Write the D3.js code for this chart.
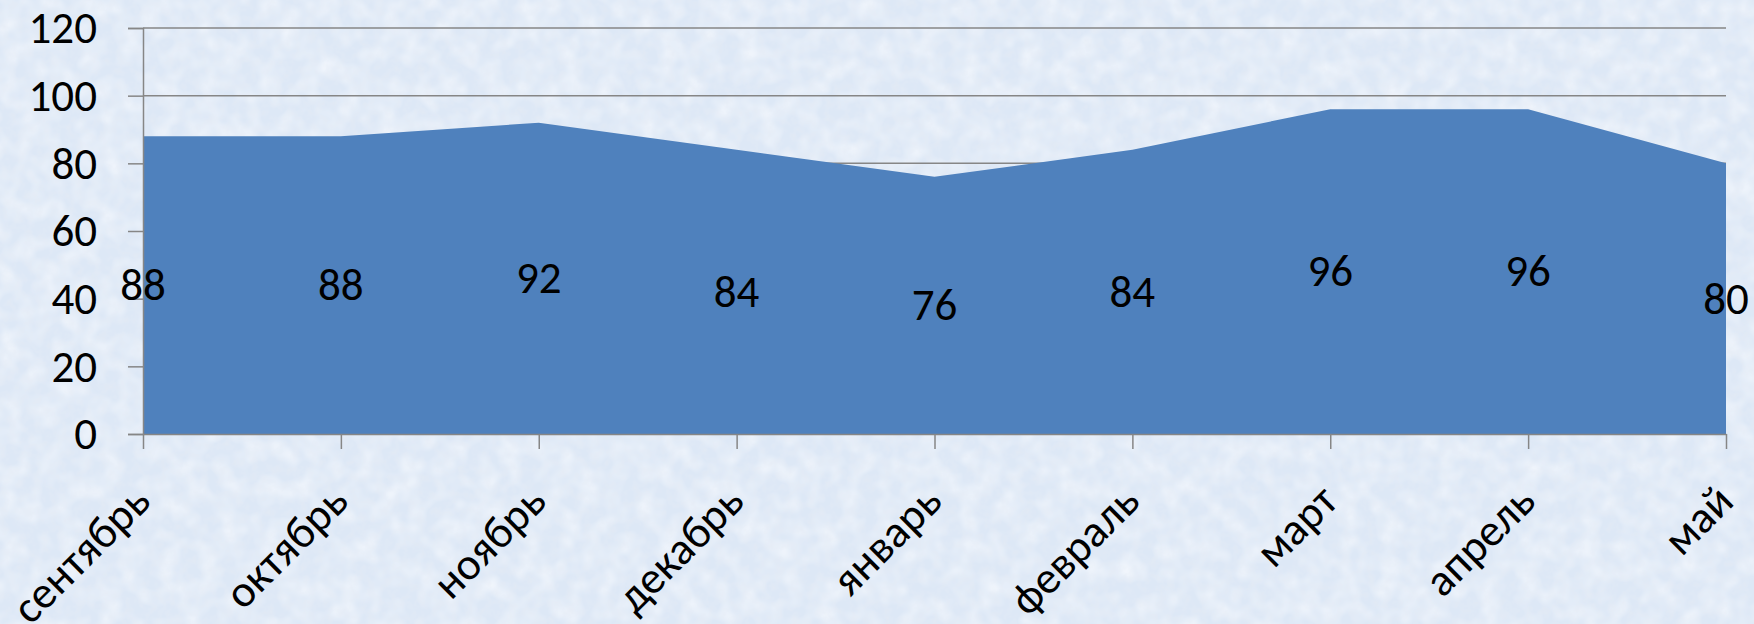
<!DOCTYPE html>
<html>
<head>
<meta charset="utf-8">
<script src="https://cdn.jsdelivr.net/npm/d3@7"></script>
<style>
  html, body { margin: 0; padding: 0; background: #dde8f5; }
  svg { display: block; }
  text { font-family: Carlito, Calibri, Lato, "Open Sans", sans-serif; fill: #000; }
</style>
</head>
<body>
<svg id="chart" width="1754" height="624"></svg>
<script>
const categories = ["сентябрь", "октябрь", "ноябрь", "декабрь", "январь", "февраль", "март", "апрель", "май"];
const values = [88, 88, 92, 84, 76, 84, 96, 96, 80];
const yTicks = [0, 20, 40, 60, 80, 100, 120];

const W = 1754, H = 624;
const margin = { left: 143, right: 28 };
const FONT = 45;
const svg = d3.select("#chart");

// textured light-blue background
const defs = svg.append("defs");
const f = defs.append("filter").attr("id", "noise").attr("x", 0).attr("y", 0).attr("width", "100%").attr("height", "100%");
f.append("feTurbulence").attr("type", "fractalNoise").attr("baseFrequency", 0.12).attr("numOctaves", 3).attr("seed", 7).attr("result", "n");
f.append("feColorMatrix").attr("in", "n").attr("type", "matrix")
  .attr("values", "0 0 0 0 0.78  0 0 0 0 0.83  0 0 0 0 0.91  0 0 0 1.2 -0.45");
const f2 = defs.append("filter").attr("id", "noise2").attr("x", 0).attr("y", 0).attr("width", "100%").attr("height", "100%");
f2.append("feTurbulence").attr("type", "fractalNoise").attr("baseFrequency", 0.05).attr("numOctaves", 2).attr("seed", 3).attr("result", "n");
f2.append("feColorMatrix").attr("in", "n").attr("type", "matrix")
  .attr("values", "0 0 0 0 0.97  0 0 0 0 0.98  0 0 0 0 1  0 0 0 1.2 -0.45");
svg.append("rect").attr("width", W).attr("height", H).attr("fill", "#dde8f6");
svg.append("rect").attr("width", W).attr("height", H).attr("fill", "#fff").attr("filter", "url(#noise2)");
svg.append("rect").attr("width", W).attr("height", H).attr("fill", "#fff").attr("filter", "url(#noise)");

const x = d3.scalePoint().domain(categories).range([margin.left, W - margin.right]);
const y = d3.scaleLinear().domain([0, 120]).range([434, 28]);

// gridlines
svg.append("g").selectAll("line").data(yTicks.filter(d => d > 0)).join("line")
  .attr("x1", margin.left).attr("x2", W - margin.right)
  .attr("y1", d => y(d)).attr("y2", d => y(d))
  .attr("stroke", "#868686").attr("stroke-width", 1.5);

// area
const area = d3.area()
  .x((d, i) => x(categories[i]))
  .y0(y(0))
  .y1(d => y(d));
svg.append("path").datum(values).attr("d", area).attr("fill", "#4f81bd");

// y axis
const yAxis = d3.axisLeft(y).tickValues(yTicks).tickSize(15).tickPadding(31).tickFormat(d3.format("d"));
const gy = svg.append("g").attr("transform", `translate(${margin.left},0)`).call(yAxis);
gy.select(".domain").attr("stroke", "#868686").attr("stroke-width", 1.5);
gy.selectAll(".tick line").attr("stroke", "#868686").attr("stroke-width", 1.5);
gy.selectAll(".tick text").attr("font-size", FONT).attr("font-family", "Carlito, Calibri, Lato, sans-serif").attr("fill", "#000").attr("dy", "0.33em");

// x axis
const xAxis = d3.axisBottom(x).tickSize(15).tickSizeOuter(0).tickFormat("");
const gx = svg.append("g").attr("transform", `translate(0,${y(0)})`).call(xAxis);
gx.select(".domain").attr("stroke", "#868686").attr("stroke-width", 1.5);
gx.selectAll(".tick line").attr("stroke", "#868686").attr("stroke-width", 1.5);

// rotated x labels
svg.append("g").selectAll("text").data(categories).join("text")
  .attr("transform", d => `translate(${x(d) + 2},${y(0) + 62}) rotate(-45)`)
  .attr("text-anchor", "end")
  .attr("dy", "0.24em")
  .attr("font-size", FONT)
  .text(d => d);

// data labels
svg.append("g").selectAll("text").data(values).join("text")
  .attr("x", (d, i) => x(categories[i]))
  .attr("y", d => y(d / 2))
  .attr("text-anchor", "middle")
  .attr("dy", "0.33em")
  .attr("font-size", FONT)
  .text(d => d);
</script>
</body>
</html>
